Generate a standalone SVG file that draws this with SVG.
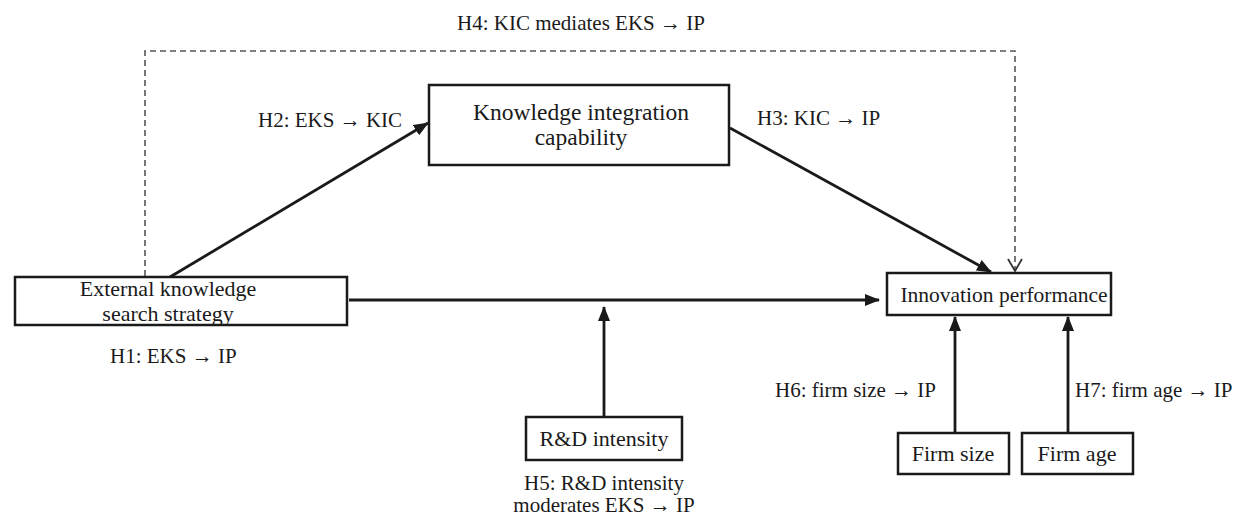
<svg xmlns="http://www.w3.org/2000/svg" width="1242" height="515" viewBox="0 0 1242 515">
  <style>
    text { font-family: "Liberation Serif", "DejaVu Serif", serif; font-size: 22px; fill: #1a1a1a; }
    .lbl { font-size: 21px; }
    .big { font-size: 23.5px; }
    .box { fill: #ffffff; stroke: #1a1a1a; stroke-width: 2.5; }
    .arrow { stroke: #1a1a1a; stroke-width: 2.8; fill: none; marker-end: url(#head); }
    .dash { stroke: #555555; stroke-width: 1.6; fill: none; stroke-dasharray: 6 4; }
  </style>
  <defs>
    <marker id="head" markerUnits="userSpaceOnUse" markerWidth="15" markerHeight="12" refX="14" refY="6" orient="auto">
      <path d="M0,0 L15,6 L0,12 Z" fill="#1a1a1a"/>
    </marker>
  </defs>
  <rect width="1242" height="515" fill="#ffffff"/>

  <g id="connectors">
    <path class="dash" d="M145,276 V51 H1015 V270"/>
    <path d="M1008,259 L1015,271 L1022,259" stroke="#333" stroke-width="1.8" fill="none"/>
    <line class="arrow" x1="170" y1="277" x2="428" y2="123"/>
    <line class="arrow" x1="730" y1="128" x2="991" y2="272"/>
    <line class="arrow" x1="349" y1="300" x2="879" y2="300"/>
    <line class="arrow" x1="604" y1="417" x2="604" y2="307"/>
    <line class="arrow" x1="955" y1="433" x2="955" y2="317"/>
    <line class="arrow" x1="1068" y1="433" x2="1068" y2="317"/>
  </g>

  <g id="labels">
    <text class="lbl" x="581" y="30" text-anchor="middle">H4: KIC mediates EKS  → IP</text>
    <text class="lbl" x="258" y="127">H2: EKS  → KIC</text>
    <text class="lbl" x="757" y="125">H3: KIC  → IP</text>
    <text class="lbl" x="110" y="363">H1: EKS  → IP</text>
    <text class="lbl" x="604" y="490" text-anchor="middle">H5: R&amp;D intensity</text>
    <text class="lbl" x="604" y="512" text-anchor="middle">moderates EKS  → IP</text>
    <text class="lbl" x="775" y="397">H6: firm size  → IP</text>
    <text class="lbl" x="1075" y="397">H7: firm age  → IP</text>
  </g>

  <g id="kic">
    <rect class="box" x="429" y="85" width="300" height="80"/>
    <text class="big" x="581" y="120" text-anchor="middle">Knowledge integration</text>
    <text class="big" x="581" y="145" text-anchor="middle">capability</text>
  </g>
  <g id="eks">
    <rect class="box" x="15" y="277" width="332" height="48"/>
    <text x="168" y="296" text-anchor="middle">External knowledge</text>
    <text x="168" y="321" text-anchor="middle">search strategy</text>
  </g>
  <g id="ip">
    <rect class="box" x="887" y="273" width="224" height="42"/>
    <text x="1004" y="302" text-anchor="middle" style="font-size:21.5px">Innovation performance</text>
  </g>
  <g id="rd">
    <rect class="box" x="526" y="417" width="156" height="43"/>
    <text x="604" y="446" text-anchor="middle">R&amp;D intensity</text>
  </g>
  <g id="firmsize">
    <rect class="box" x="898" y="433" width="111" height="41"/>
    <text x="953" y="461" text-anchor="middle">Firm size</text>
  </g>
  <g id="firmage">
    <rect class="box" x="1022" y="433" width="111" height="41"/>
    <text x="1077" y="461" text-anchor="middle">Firm age</text>
  </g>
</svg>
